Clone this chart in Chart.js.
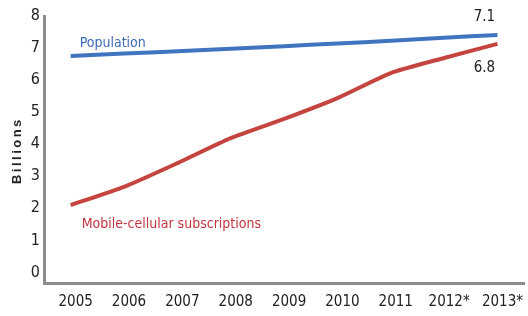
<!DOCTYPE html>
<html>
<head>
<meta charset="utf-8">
<script src="https://cdn.jsdelivr.net/npm/chart.js@4/dist/chart.umd.min.js"></script>
<style>
  html, body { margin: 0; padding: 0; background: #fff; }
  #wrap { width: 528px; height: 316px; position: relative; }
</style>
</head>
<body>
<div id="wrap"><canvas id="chart"></canvas></div>
<script>
// Data
const years = ['2005', '2006', '2007', '2008', '2009', '2010', '2011', '2012*', '2013*'];
const population = [6.75, 6.83, 6.9, 6.98, 7.06, 7.14, 7.23, 7.32, 7.41];
const mobile = [2.1, 2.67, 3.41, 4.19, 4.79, 5.44, 6.22, 6.69, 7.13];
const yTicks = [0, 1, 2, 3, 4, 5, 6, 7, 8];
const endLabels = ['7.1', '6.8'];

const narrow = "'Liberation Sans Narrow', 'DejaVu Sans Condensed', sans-serif";
const axisGrey = '#8c8c8c';

// text labels placed through the scales
const labelPlugin = {
    id: 'labels',
    afterDraw(chart) {
        const c = chart.ctx;
        const x = chart.scales.x, y = chart.scales.y;
        c.save();
        c.textBaseline = 'middle';

        c.font = '14px ' + narrow;
        c.fillStyle = '#3d6cb3';
        c.textAlign = 'left';
        c.fillText('Population', x.getPixelForValue(0) + 9, y.getPixelForValue(7.15));
        c.fillStyle = '#c2353d';
        c.fillText('Mobile-cellular subscriptions', x.getPixelForValue(0) + 11, y.getPixelForValue(1.5));

        c.font = '15px ' + narrow;
        c.fillStyle = '#222';
        c.textAlign = 'center';
        const last = years.length - 1;
        c.fillText(endLabels[0], x.getPixelForValue(last) - 13, y.getPixelForValue(7.98));
        c.fillText(endLabels[1], x.getPixelForValue(last) - 13, y.getPixelForValue(6.38));

        // axis title
        c.translate(17, y.getPixelForValue(3.8));
        c.rotate(-Math.PI / 2);
        c.font = "bold 13px 'Liberation Sans', Arial, sans-serif";
        c.letterSpacing = '2.5px';
        c.fillStyle = '#222';
        c.fillText('Billions', 0, 0);
        c.restore();
    }
};

new Chart(document.getElementById('chart'), {
    type: 'line',
    data: {
        labels: years,
        datasets: [{
            label: 'Population',
            data: population,
            borderColor: '#4174bf',
            borderWidth: 4,
            pointRadius: 0,
            tension: 0.2
        }, {
            label: 'Mobile-cellular subscriptions',
            data: mobile,
            borderColor: '#c4443f',
            borderWidth: 4,
            pointRadius: 0,
            tension: 0.2
        }]
    },
    options: {
        responsive: true,
        maintainAspectRatio: false,
        animation: false,
        layout: { padding: { top: 16, right: 0, left: 0, bottom: 0 } },
        plugins: {
            legend: { display: false },
            tooltip: { enabled: false }
        },
        scales: {
            x: {
                offset: true,
                grid: { display: false, drawTicks: false },
                border: { color: axisGrey, width: 3 },
                ticks: {
                    color: '#222',
                    padding: 10,
                    labelOffset: 5,
                    maxRotation: 0,
                    autoSkip: false,
                    font: { family: narrow, size: 15 }
                },
                afterFit(scale) { scale.height = 33; }
            },
            y: {
                min: -0.33,
                max: 8,
                afterBuildTicks(scale) {
                    scale.ticks = yTicks.map(v => ({ value: v }));
                },
                grid: { display: false, drawTicks: false },
                border: { color: axisGrey, width: 3 },
                ticks: {
                    color: '#222',
                    padding: 4,
                    font: { family: narrow, size: 16 }
                },
                afterFit(scale) { scale.width = 44; }
            }
        }
    },
    plugins: [labelPlugin]
});
</script>
</body>
</html>
